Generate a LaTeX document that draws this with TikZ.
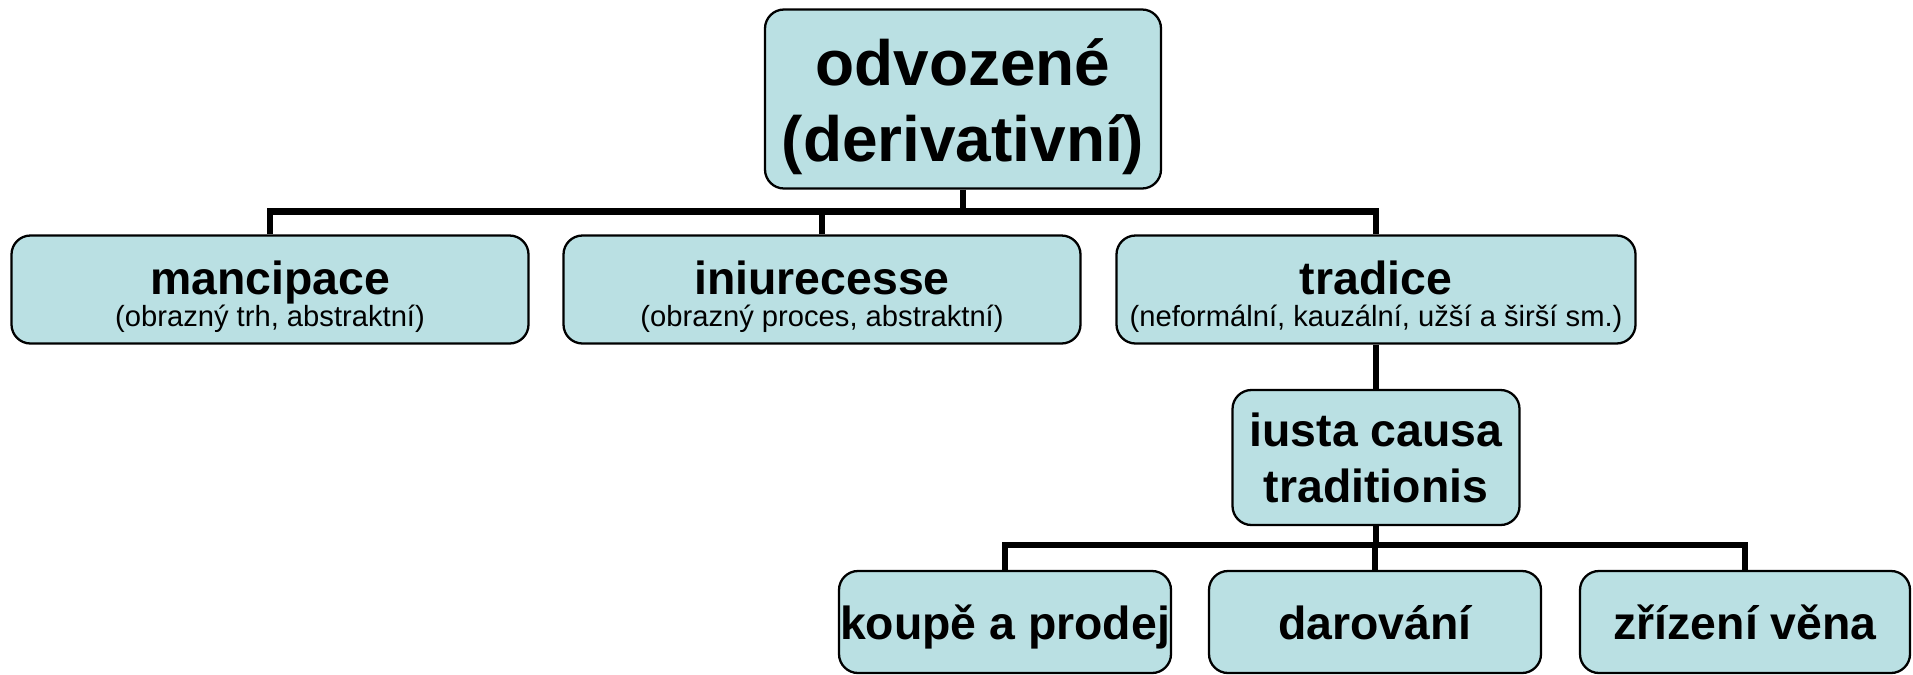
\documentclass[tikz,border=0pt]{standalone}
\usepackage{fontspec}
\setmainfont{Liberation Sans}

\definecolor{boxfill}{RGB}{186,224,227}
\tikzset{
    box/.style={draw, line width=1.3pt, fill=boxfill, rounded corners=0.38cm, align=center, inner sep=0pt},
    wire/.style={line width=3.6pt},
    rootfont/.style={font=\fontsize{36.4}{43.7}\selectfont\bfseries},
    headfont/.style={font=\fontsize{26.4}{31.9}\selectfont\bfseries},
    lvlfont/.style={font=\fontsize{26.4}{18.7}\selectfont\bfseries},
}
\newcommand{\subline}[1]{{\fontsize{16.6}{18.7}\selectfont\mdseries #1}}

\begin{document}
\begin{tikzpicture}
                    % Frame:
                    \useasboundingbox (0, 0) rectangle (38.26, -13.48);
                    % Boxes:
                    \node[box, rootfont, minimum width=7.92cm, minimum height=3.58cm] (root) at (19.26, -1.98) {\rule{0pt}{35.5pt}odvozené\\(derivativní)};
                    \node[box, lvlfont, minimum width=10.34cm, minimum height=2.16cm] (mancipace) at (5.40, -5.79) {\rule{0pt}{27.3pt}mancipace\\\subline{(obrazný trh, abstraktní)}};
                    \node[box, lvlfont, minimum width=10.34cm, minimum height=2.16cm] (iniure) at (16.44, -5.79) {\rule{0pt}{27.3pt}iniurecesse\\\subline{(obrazný proces, abstraktní)}};
                    \node[box, lvlfont, minimum width=10.38cm, minimum height=2.16cm] (tradice) at (27.52, -5.79) {\rule{0pt}{27.3pt}tradice\\\subline{(neformální, kauzální, užší a širší sm.)}};
                    \node[box, headfont, minimum width=5.74cm, minimum height=2.70cm] (iusta) at (27.52, -9.15) {iusta causa\\traditionis};
                    \node[box, headfont, text depth=0pt, minimum width=6.64cm, minimum height=2.04cm] (koupe) at (20.10, -12.44) {koupě a prodej};
                    \node[box, headfont, text depth=0pt, minimum width=6.64cm, minimum height=2.04cm] (darovani) at (27.50, -12.44) {darování};
                    \node[box, headfont, text depth=0pt, minimum width=6.60cm, minimum height=2.04cm] (zrizeni) at (34.90, -12.44) {zřízení věna};
                    % Wires:
                    \coordinate (fork1) at (19.26, -4.23);
                    \coordinate (fork2) at (27.52, -10.90);
                    \draw[wire] (root.south) -- (fork1);
                    \draw[wire] (mancipace.north) |- (fork1) -| (tradice.north);
                    \draw[wire] (iniure.north) -- (iniure.north |- fork1);
                    \draw[wire] (tradice.south) -- (iusta.north);
                    \draw[wire] (iusta.south) -- (fork2);
                    \draw[wire] (koupe.north) |- (fork2) -| (zrizeni.north);
                    \draw[wire] (darovani.north) -- (darovani.north |- fork2);
                \end{tikzpicture}
\end{document}
